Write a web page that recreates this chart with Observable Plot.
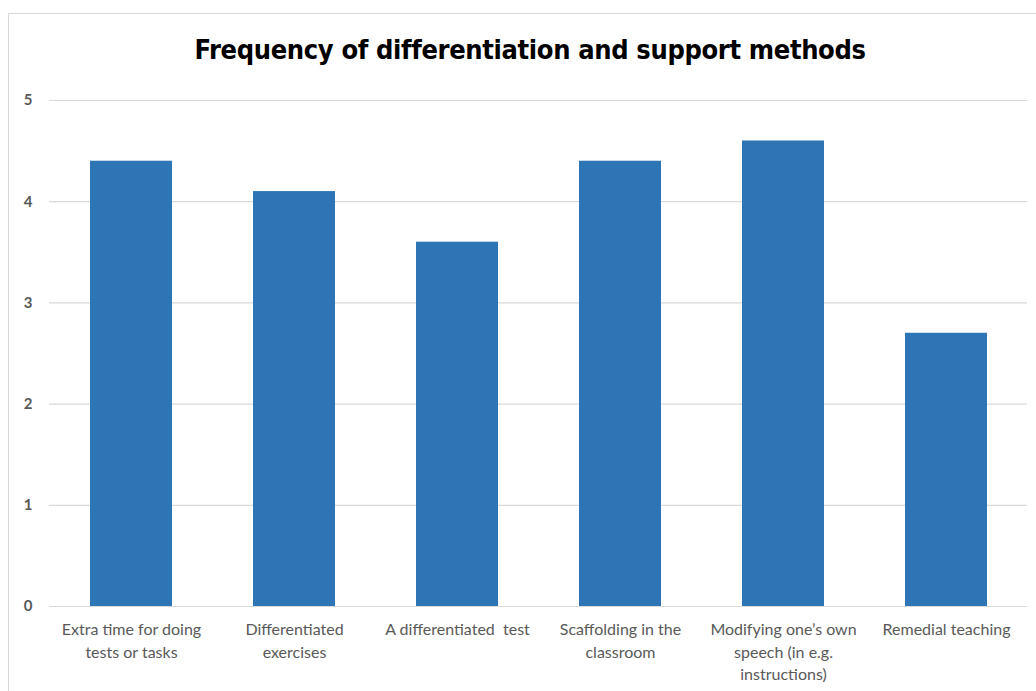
<!DOCTYPE html>
<html>
<head>
<meta charset="utf-8">
<script src="https://cdn.jsdelivr.net/npm/d3@7"></script>
<script src="https://cdn.jsdelivr.net/npm/@observablehq/plot@0.6"></script>
<style>
  html, body { margin: 0; padding: 0; background: #fff; }
  #wrap { position: relative; width: 1036px; height: 691px; overflow: hidden; }
  #border { position: absolute; left: 8px; top: 13px; width: 1100px; height: 800px; border: 1px solid #d9d9d9; box-sizing: border-box; }
  #title { position: absolute; left: 0; top: 34px; width: 1060px; text-align: center;
    font-family: "Liberation Sans Narrow", "DejaVu Sans Condensed", "Liberation Sans", sans-serif;
    font-weight: bold; font-size: 27px; color: #000; letter-spacing: -0.35px; }
  #chart { position: absolute; left: 0; top: 0; }
</style>
</head>
<body>
<div id="wrap">
  <div id="border"></div>
  <div id="chart"></div>
  <div id="title">Frequency of differentiation and support methods</div>
</div>
<script>
const categories = [
  "Extra time for doing\ntests or tasks",
  "Differentiated\nexercises",
  "A differentiated  test",
  "Scaffolding in the\nclassroom",
  "Modifying one’s own\nspeech (in e.g.\ninstructions)",
  "Remedial teaching"
];
const values = [4.4, 4.1, 3.6, 4.4, 4.6, 2.7];
const yTicks = [0, 1, 2, 3, 4, 5];

const data = categories.map((c, i) => ({category: c, value: values[i]}));

const chart = Plot.plot({
  width: 1036,
  height: 691,
  marginTop: 100,
  marginBottom: 85,
  marginLeft: 49,
  marginRight: 9,
  style: {fontFamily: "Lato, 'Open Sans', sans-serif", fontSize: "16px", color: "#595959", background: "transparent"},
  x: {domain: categories, paddingInner: 0.5, paddingOuter: 0.25, label: null},
  y: {domain: [0, 5], label: null},
  marks: [
    Plot.ruleY(yTicks, {stroke: "#d9d9d9", strokeWidth: 1.2}),
    Plot.barY(data, {x: "category", y: "value", fill: "#2e75b6"}),
    Plot.axisX({tickSize: 0, tickPadding: 13, lineHeight: 1.4, fontSize: 16, fill: "#595959", label: null}),
    Plot.axisY({ticks: yTicks, tickFormat: "d", tickSize: 0, tickPadding: 17, fontSize: 15, fill: "#595959", fontWeight: "bold", label: null})
  ]
});
document.getElementById("chart").appendChild(chart);
</script>
</body>
</html>
